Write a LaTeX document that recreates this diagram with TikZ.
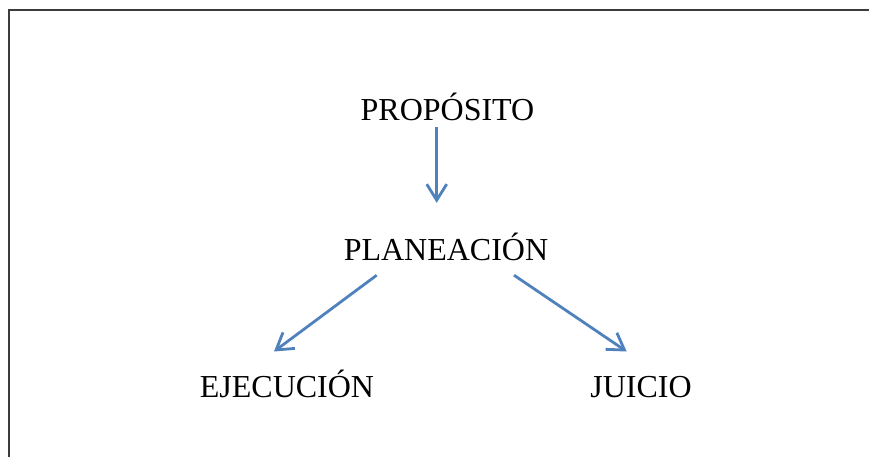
\documentclass[tikz,border=0pt]{standalone}
\usepackage{fontspec}
\setmainfont{Liberation Serif}
\usetikzlibrary{arrows.meta,positioning}
\definecolor{wordblue}{RGB}{79,129,189}
\definecolor{framegray}{RGB}{60,60,60}

\begin{document}
\begin{tikzpicture}[x=1pt,y=-1pt,% pixel-like units, y pointing down
        word/.style={anchor=base,inner sep=0pt,text height=23pt,text depth=1pt,
                font=\fontsize{32}{38}\selectfont},
        arr/.style={draw=wordblue,line width=2.8pt,
                -{Straight Barb[length=16pt,width=20pt,line width=2.8pt]}}]
\useasboundingbox (0,0) rectangle (869,457);
\draw[framegray,line width=2pt] (8.5,457) -- (8.5,10.5) -- (869,10.5); %frame, cut at right and bottom

\node[word] (prop) at (447.5,120.7) {PROPÓSITO};
\node[word] (plan) at (446,260) {PLANEACIÓN};
\node[word] (ejec) at (287,397) {EJECUCIÓN};
\node[word] (juic) at (641,397) {JUICIO};

\draw[arr] ([xshift=-10.8pt,yshift=-5.3pt]prop.south) -- ([xshift=-9.3pt,yshift=34pt]plan.north);
\draw[arr] ([xshift=-69.3pt,yshift=-14pt]plan.south) -- ([xshift=-13pt,yshift=22.3pt]ejec.north);
\draw[arr] ([xshift=68pt,yshift=-14pt]plan.south) -- ([xshift=-14.3pt,yshift=22.3pt]juic.north);
\end{tikzpicture}
\end{document}
